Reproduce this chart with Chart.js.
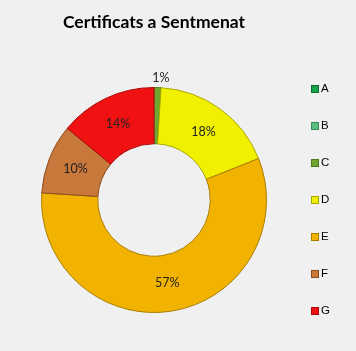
<!DOCTYPE html>
<html>
<head>
<meta charset="utf-8">
<script src="https://cdn.jsdelivr.net/npm/chart.js@4.4.0/dist/chart.umd.min.js"></script>
<style>
    html, body { margin: 0; padding: 0; background: #f0f0f0; }
    #wrap { width: 356px; height: 351px; }
</style>
</head>
<body>
<div id="wrap"><canvas id="certificats-chart"></canvas></div>
<script>
// Chart data
const categories = ['A', 'B', 'C', 'D', 'E', 'F', 'G'];
const percentages = [0, 0, 1, 18, 57, 10, 14];
const sliceColors = ['#17a34a', '#5cbf80', '#6fa531', '#f0f000', '#f2b300', '#c8783a', '#f01212'];
const sliceBorders = ['#0d6e30', '#3a8a56', '#4c7a1c', '#a8a800', '#a87c00', '#8a4e20', '#a80808'];
const chartTitle = 'Certificats a Sentmenat';

// Draws the percentage labels on the slices (the 1% one sits outside)
const sliceLabels = {
    id: 'sliceLabels',
    afterDatasetsDraw(chart) {
        const ctx = chart.ctx;
        const meta = chart.getDatasetMeta(0);
        ctx.save();
        ctx.font = '12.5px Lato';
        ctx.fillStyle = '#222';
        ctx.textAlign = 'center';
        ctx.textBaseline = 'middle';
        meta.data.forEach((arc, i) => {
            const value = percentages[i];
            if (!value) return;
            let pos = arc.tooltipPosition();
            if (value < 3) {
                const angle = (arc.startAngle + arc.endAngle) / 2;
                const r = arc.outerRadius + 10;
                pos = { x: arc.x + Math.cos(angle) * r + 3, y: arc.y + Math.sin(angle) * r };
            }
            ctx.fillText(value + '%', pos.x, pos.y);
        });
        ctx.restore();
    }
};

// Legend on the right, spread out like the original
const sideLegend = {
    id: 'sideLegend',
    afterDraw(chart) {
        const ctx = chart.ctx;
        const area = chart.chartArea;
        const step = 37;
        const x = area.right + 3;
        const midY = (area.top + area.bottom) / 2;
        const firstY = midY - step * (categories.length - 1) / 2;
        ctx.save();
        ctx.font = '11.5px "Liberation Sans"';
        ctx.textBaseline = 'middle';
        categories.forEach((label, i) => {
            const y = firstY + i * step;
            ctx.fillStyle = sliceColors[i];
            ctx.fillRect(x, y - 4, 8, 8);
            ctx.strokeStyle = sliceBorders[i];
            ctx.lineWidth = 1;
            ctx.strokeRect(x + 0.5, y - 3.5, 7, 7);
            ctx.fillStyle = '#000';
            ctx.fillText(label, x + 10, y);
        });
        ctx.restore();
    }
};

const ctx = document.getElementById('certificats-chart').getContext('2d');
const certificatsChart = new Chart(ctx, {
    type: 'doughnut',
    data: {
        labels: categories,
        datasets: [{
            data: percentages,
            backgroundColor: sliceColors,
            borderColor: sliceBorders,
            borderWidth: 1
        }]
    },
    options: {
        responsive: true,
        maintainAspectRatio: false,
        animation: false,
        cutout: '50%',
        layout: {
            padding: { top: 0, bottom: 38, left: 0, right: 48 }
        },
        plugins: {
            legend: { display: false },
            tooltip: { enabled: false },
            title: {
                display: true,
                text: chartTitle,
                color: '#000',
                font: { family: 'Lato', size: 17.5, weight: 'bold' },
                padding: { top: 12, bottom: 54 }
            }
        }
    },
    plugins: [sliceLabels, sideLegend]
});
</script>
</body>
</html>
